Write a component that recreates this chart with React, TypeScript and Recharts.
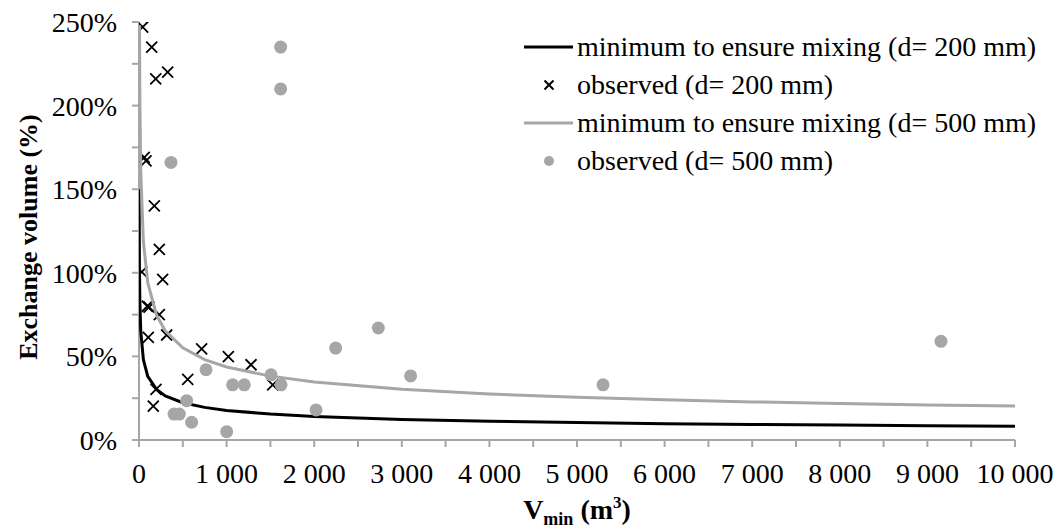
import React from 'react';
import { ScatterChart, Scatter, XAxis, YAxis, Legend } from 'recharts';

// Curves: minimum exchange volume to ensure mixing
const min200V = [1.6, 2, 5, 10, 20, 50, 100, 200, 300, 500, 750, 1000, 1500, 2000, 3000, 4000, 5000, 6000, 7000, 8000, 9000, 10000];
const min200Pct = [150, 140.5, 103.5, 82.2, 65.2, 48.0, 38.1, 30.3, 26.4, 22.3, 19.5, 17.7, 15.5, 14.0, 12.3, 11.2, 10.4, 9.7, 9.3, 8.9, 8.5, 8.2];

const min500V = [5.5, 10, 20, 50, 100, 200, 300, 500, 750, 1000, 1500, 2000, 3000, 4000, 5000, 6000, 7000, 8000, 9000, 10000];
const min500Pct = [248, 202.9, 161, 118.6, 94.1, 74.7, 65.3, 55.1, 48.1, 43.7, 38.2, 34.7, 30.3, 27.5, 25.6, 24.0, 22.8, 21.9, 21.0, 20.3];

// Observed points
const obs200V = [42, 145, 191, 327, 60, 80, 175, 232, 31, 270, 95, 115, 232, 106, 316, 715, 1020, 1279, 556, 1526, 194, 163];
const obs200Pct = [247, 235, 216, 220, 169, 167, 140, 114, 100.5, 96, 80, 79.5, 75, 61.4, 62.8, 54.5, 49.8, 45, 36.3, 33, 30.3, 20.3];

const obs500V = [1617, 1617, 365, 2245, 2732, 765, 3101, 1507, 1069, 1202, 1621, 5297, 9155, 544, 2021, 400, 460, 601, 1001];
const obs500Pct = [235, 210, 166, 55, 67, 42, 38.3, 39, 33, 33, 33, 33, 59, 23.5, 18, 15.5, 15.5, 10.6, 5];

const xTicks = [0, 500, 1000, 1500, 2000, 2500, 3000, 3500, 4000, 4500, 5000, 5500, 6000, 6500, 7000, 7500, 8000, 8500, 9000, 9500, 10000];
const yTicks = [0, 25, 50, 75, 100, 125, 150, 175, 200, 225, 250];

const seriesNames = [
  'minimum to ensure mixing (d= 200 mm)',
  'observed (d= 200 mm)',
  'minimum to ensure mixing (d= 500 mm)',
  'observed (d= 500 mm)',
];

const zip = (xs: number[], ys: number[]) => xs.map((x, i) => ({ x, y: ys[i] }));

const FONT = '"Liberation Serif", "Times New Roman", serif';
const GRAY = '#a6a6a6';

const Cross = (props: any) => {
  const { cx, cy } = props;
  if (cx == null || cy == null) return <g />;
  const s = 5.5;
  return (
    <path
      d={`M${cx - s},${cy - s}L${cx + s},${cy + s}M${cx + s},${cy - s}L${cx - s},${cy + s}`}
      stroke="#000"
      strokeWidth={1.8}
      fill="none"
    />
  );
};

const Dot = (props: any) => {
  const { cx, cy } = props;
  if (cx == null || cy == null) return <g />;
  return <circle cx={cx} cy={cy} r={6.5} fill={GRAY} />;
};

const NoShape = () => <g />;

const xFmt = (v: number) => (v === 0 ? '0' : v % 1000 === 0 ? `${v / 1000} 000` : '');
const yFmt = (v: number) => (v % 50 === 0 ? `${v}%` : '');

const LegendContent = () => {
  const icons = [
    <line x1={4} y1={19} x2={53} y2={19} stroke="#000" strokeWidth={3} />,
    <path d="M24.5,14.5L33.5,23.5M33.5,14.5L24.5,23.5" stroke="#000" strokeWidth={2} />,
    <line x1={4} y1={19} x2={53} y2={19} stroke={GRAY} strokeWidth={3} />,
    <circle cx={29} cy={19} r={5} fill={GRAY} />,
  ];
  return (
    <div style={{ fontFamily: FONT, fontSize: 28, color: '#000' }}>
      {seriesNames.map((n, i) => (
        <div key={n} style={{ display: 'flex', alignItems: 'center', height: 38, lineHeight: '38px', whiteSpace: 'nowrap' }}>
          <svg width={57} height={38} style={{ display: 'block' }}>{icons[i]}</svg>
          <span>{n}</span>
        </div>
      ))}
    </div>
  );
};

const XTitle = (props: any) => {
  const vb = props.viewBox || { x: 139, y: 440, width: 876, height: 89 };
  const cx = vb.x + vb.width / 2;
  const y = vb.y + vb.height - 10;
  return (
    <text x={cx} y={y} textAnchor="middle" fontFamily={FONT} fontWeight="bold" fontSize={28} fill="#000">
      <tspan>V</tspan>
      <tspan fontSize={18} dy={6}>min</tspan>
      <tspan dy={-6}> (m</tspan>
      <tspan fontSize={17} dy={-11}>3</tspan>
      <tspan dy={11}>)</tspan>
    </text>
  );
};

const YTitle = (props: any) => {
  const vb = props.viewBox || { x: 0, y: 22, width: 139, height: 418 };
  const cy = vb.y + vb.height / 2 + 6;
  return (
    <text
      transform={`translate(37,${cy}) rotate(-90)`}
      textAnchor="middle"
      fontFamily={FONT}
      fontWeight="bold"
      fontSize={26}
      fill="#000"
    >
      Exchange volume (%)
    </text>
  );
};

export default function App() {
  return (
    <div style={{ position: 'absolute', left: 0, top: 0, width: 1058, height: 529, background: '#fff' }}>
      <ScatterChart width={1058} height={529} margin={{ top: 22, right: 43, bottom: 0, left: 0 }}>
        <XAxis
          type="number"
          dataKey="x"
          domain={[0, 10000]}
          ticks={xTicks}
          interval={0}
          tickFormatter={xFmt}
          height={89}
          tickSize={7}
          tickMargin={16}
          axisLine={{ stroke: GRAY, strokeWidth: 2 }}
          tickLine={{ stroke: GRAY, strokeWidth: 2 }}
          tick={{ fill: '#000', fontSize: 28, fontFamily: FONT }}
          allowDataOverflow
          label={{ content: (p: any) => <XTitle {...p} /> }}
        />
        <YAxis
          type="number"
          dataKey="y"
          domain={[0, 250]}
          ticks={yTicks}
          interval={0}
          tickFormatter={yFmt}
          width={139}
          tickSize={7}
          tickMargin={15}
          axisLine={{ stroke: GRAY, strokeWidth: 2 }}
          tickLine={{ stroke: GRAY, strokeWidth: 2 }}
          tick={{ fill: '#000', fontSize: 28, fontFamily: FONT }}
          allowDataOverflow
          label={{ content: (p: any) => <YTitle {...p} /> }}
        />
        <Legend
          layout="vertical"
          align="center"
          verticalAlign="middle"
          wrapperStyle={{ top: 28, left: 520, width: 538 }}
          content={() => <LegendContent />}
        />
        <Scatter
          name={seriesNames[0]}
          data={zip(min200V, min200Pct)}
          line={{ stroke: '#000', strokeWidth: 3 }}
          shape={NoShape}
          isAnimationActive={false}
        />
        <Scatter name={seriesNames[1]} data={zip(obs200V, obs200Pct)} shape={Cross} isAnimationActive={false} />
        <Scatter
          name={seriesNames[2]}
          data={zip(min500V, min500Pct)}
          line={{ stroke: GRAY, strokeWidth: 3 }}
          shape={NoShape}
          isAnimationActive={false}
        />
        <Scatter name={seriesNames[3]} data={zip(obs500V, obs500Pct)} shape={Dot} isAnimationActive={false} />
      </ScatterChart>
    </div>
  );
}
